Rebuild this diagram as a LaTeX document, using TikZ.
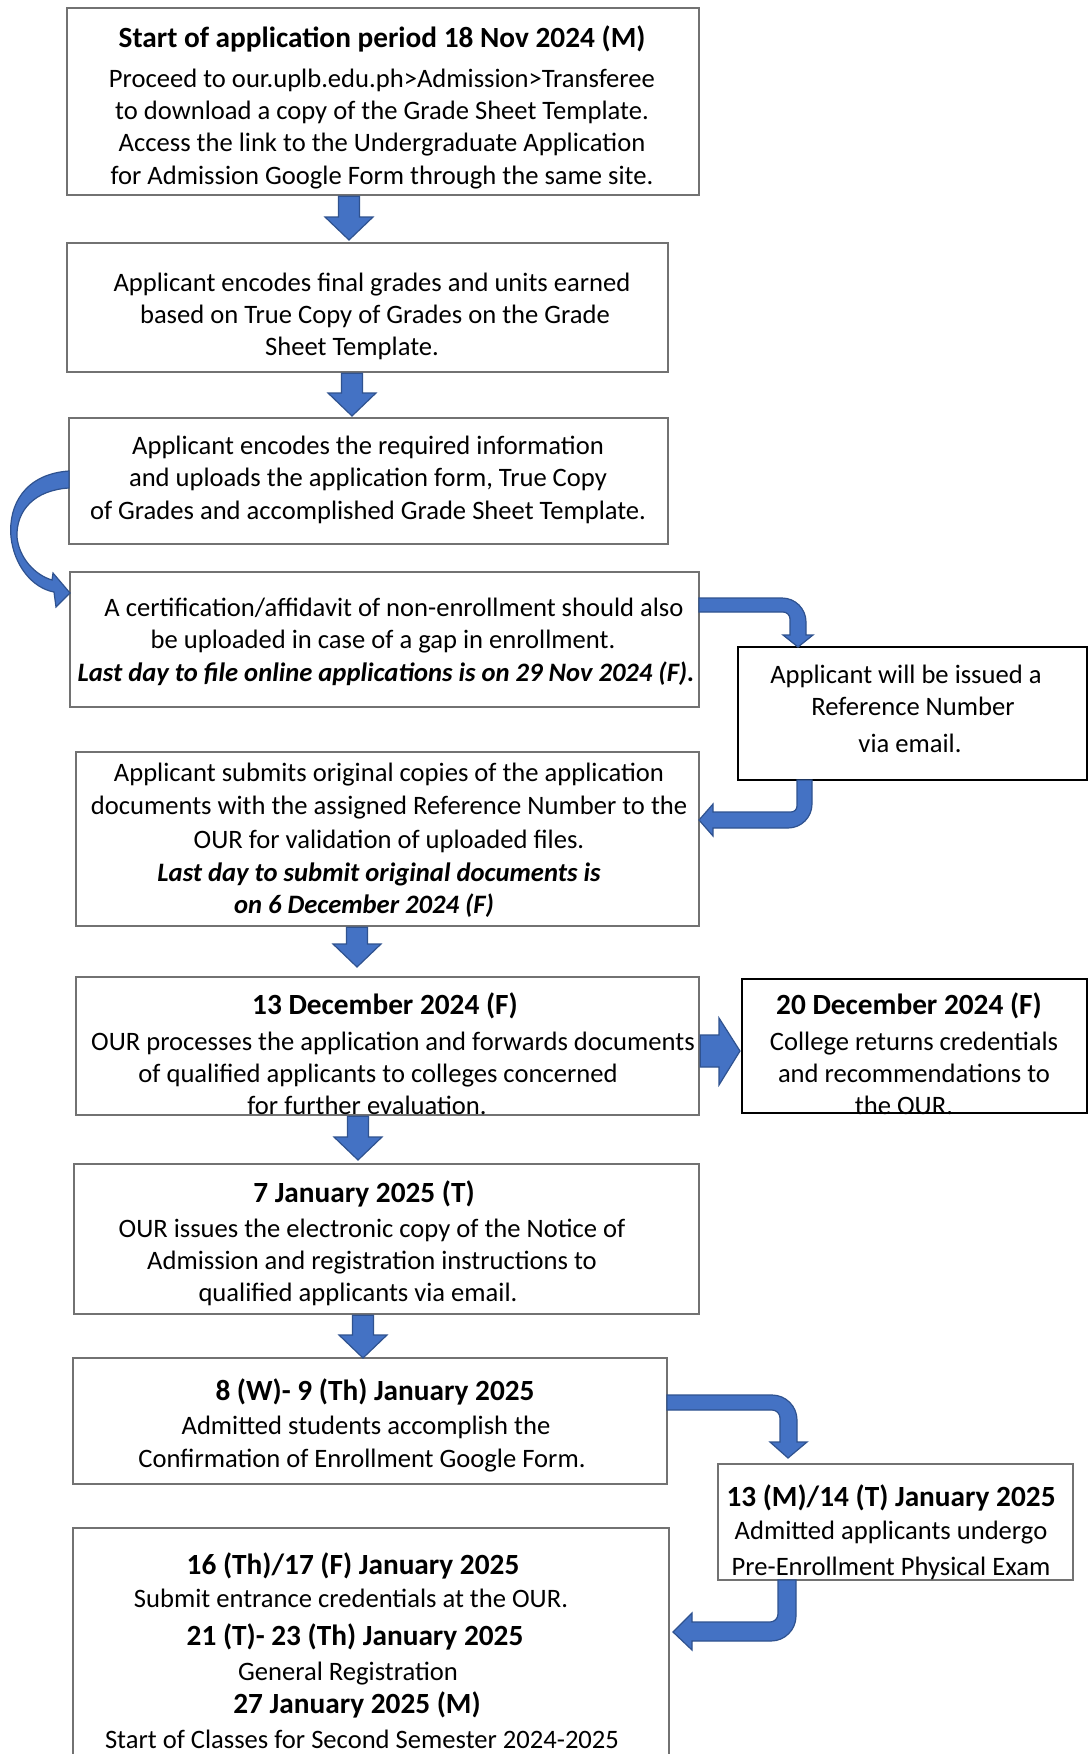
\documentclass[tikz,border=0pt]{standalone}
\usepackage{fontspec}
\setmainfont{Carlito}
\usetikzlibrary{calc}
\definecolor{boxgray}{HTML}{727272}
\definecolor{arrfill}{HTML}{4472C4}
\definecolor{arrline}{HTML}{2F528F}
\newcommand\hd{\fontsize{29.3}{35}\selectfont\bfseries}
\newcommand\bit{\bfseries\itshape}
% #1 x, #2 from node, #3 to node, #4 gap above target
\newcommand\dnarrow[4]{\path[blk] let \p1=(#2.south), \p2=(#3.north) in
  (#1pt-10.5pt,\y1-1.3pt) -- (#1pt-10.5pt,\y2+#4pt+23pt) -- (#1pt-24pt,\y2+#4pt+23pt) -- (#1pt,\y2+#4pt)
  -- (#1pt+24pt,\y2+#4pt+23pt) -- (#1pt+10.5pt,\y2+#4pt+23pt) -- (#1pt+10.5pt,\y1-1.3pt) -- cycle;}
\begin{document}
\begin{tikzpicture}[x=1pt,y=-1pt,
  box/.style={draw=boxgray,line width=2.6pt,inner sep=0pt,outer sep=0pt,anchor=north west,rectangle},
  kbox/.style={box,draw=black},
  txt/.style={align=center,inner sep=0pt,font=\fontsize{26.6}{32.4}\selectfont},
  blk/.style={fill=arrfill,draw=arrline,line width=1.2pt,line join=miter}]
\useasboundingbox (0,0) rectangle (1088,1754);
\fill[white] (0,0) rectangle (1088,1754);

% boxes
\node[box,minimum width=632pt,minimum height=187pt] (b1) at (67,8) {};
\node[box,minimum width=601pt,minimum height=129pt] (b2) at (67,243) {};
\node[box,minimum width=599pt,minimum height=126pt] (b3) at (69,418) {};
\node[box,minimum width=629pt,minimum height=135pt] (b4) at (70,572) {};
\node[kbox,minimum width=349pt,minimum height=133pt] (b5) at (738,647) {};
\node[box,minimum width=623pt,minimum height=174pt] (b6) at (76,752) {};
\node[box,minimum width=623pt,minimum height=138pt] (b7) at (76,977) {};
\node[kbox,minimum width=345pt,minimum height=134pt] (b8) at (742,979) {};
\node[box,minimum width=625pt,minimum height=150pt] (b9) at (74,1164) {};
\node[box,minimum width=594pt,minimum height=126pt] (b10) at (73,1358) {};
\node[box,minimum width=355pt,minimum height=116pt] (b11) at (718,1464) {};
\node[box,minimum width=596pt,minimum height=260pt] (b12) at (73,1528) {};

% straight down arrows
\dnarrow{349}{b1}{b2}{3}
\dnarrow{352}{b2}{b3}{2}
\dnarrow{357}{b6}{b7}{10}
\dnarrow{358}{b7}{b9}{4}
\dnarrow{363}{b9}{b10}{0}

% right arrow b7 -> b8
\path[blk] let \p1=(b7.east), \p2=(b8.west) in
  (\x1+1.3pt,-1035pt) -- (719pt,-1035pt) -- (719pt,-1018pt) -- (\x2-2pt,-1051pt)
  -- (719pt,-1085pt) -- (719pt,-1067pt) -- (\x1+1.3pt,-1067pt) -- cycle;

% curved arrow b3 -> b4
\path[blk] (b3.west |- 0,471) .. controls (25,474) and (8,505) .. (11,537)
  .. controls (14,565) and (32,588) .. (54,592) -- (56,607) -- (b4.west |- 0,593)
  -- (53,573) -- (52,580) .. controls (35,575) and (19,558) .. (17,537)
  .. controls (16,510) and (35,490) .. (b3.west |- 0,488) -- cycle;

% bent arrow b4 -> b5
\path[blk] (b4.east |- 0,598) -- (782,598) .. controls (795.3,598) and (806,608.7) .. (806,622)
  -- (806,635) -- (813,635) -- (b5.north -| 798,0) -- (783,635) -- (790,635) -- (790,619)
  .. controls (790,615.1) and (786.9,612) .. (783,612) -- (b4.east |- 0,612) -- cycle;

% bent arrow b5 -> b6
\path[blk] (b5.south -| 797,0) -- (b5.south -| 812,0) -- (812,804)
  .. controls (812,817.3) and (801.3,828) .. (788,828) -- (713,828) -- (713,836)
  -- (b6.east |- 0,820) -- (713,804) -- (713,812) -- (791,812)
  .. controls (794.3,812) and (797,809.3) .. (797,806) -- cycle;

% bent arrow b10 -> b11
\path[blk] (b10.east |- 0,1395) -- (772,1395) .. controls (785.8,1395) and (797,1406.2) .. (797,1420)
  -- (797,1442) -- (807,1442) -- ($(b11.north -| 788,0)+(0,-6)$) -- (770,1442) -- (780,1442)
  -- (780,1418) .. controls (780,1413.6) and (776.4,1410) .. (772,1410) -- (b10.east |- 0,1410) -- cycle;

% bent arrow b11 -> b12
\path[blk] (b11.south -| 778,0) -- (b11.south -| 796,0) -- (796,1616)
  .. controls (796,1629.8) and (784.8,1641) .. (771,1641) -- (692,1641) -- (692,1650)
  -- ($(b12.east |- 0,1632)+(4,0)$) -- (692,1613) -- (692,1622) -- (770,1622)
  .. controls (774.4,1622) and (778,1618.4) .. (778,1614) -- cycle;

% texts
\node[txt] (t1) at (382,107.5) {{\hd Start of application period 18 Nov 2024 (M)}\\[7pt]
  Proceed to our.uplb.edu.ph>Admission>Transferee\\
  to download a copy of the Grade Sheet Template.\\
  Access the link to the Undergraduate Application\\
  for Admission Google Form through the same site.};
\node[txt] (t2) at (372,316.5) {Applicant encodes final grades and units earned\\
  based on True Copy of Grades on the Grade\kern-6pt\\
  Sheet Template.\kern40pt};
\node[txt] (t3) at (368,479.5) {Applicant encodes the required information\\
  and uploads the application form, True Copy\\
  of Grades and accomplished Grade Sheet Template.};
\node[txt] (t4) at (386,641.5) {\kern16pt A certification/affidavit of non-enrollment should also\\
  be uploaded in case of a gap in enrollment.\kern6pt\\
  {\bit Last day to file online applications is on 29 Nov 2024 (F).}};
\node[txt] (t5) at (910,708.5) {Applicant will be issued a\kern8pt\\
  \kern6pt Reference Number\\[4pt]
  via email.};
\node[txt] (t6) at (389,840.5) {Applicant submits original copies of the application\\
  documents with the assigned Reference Number to the\\[2pt]
  OUR for validation of uploaded files.\\
  {\bit Last day to submit original documents is}\kern20pt\\
  {\bit on 6 December 2024 (F)}\kern50pt};
\node[txt] (t7) at (393,1054) {{\hd 13 December 2024 (F)}\kern16pt\\[3pt]
  OUR processes the application and forwards documents\\
  of qualified applicants to colleges concerned\kern30pt\\
  for further evaluation.\kern52pt};
\node[txt] (t8) at (914,1054) {{\hd 20 December 2024 (F)}\kern10pt\\[3pt]
  College returns credentials\\
  and recommendations to\\
  the OUR.\kern20pt};
\node[txt] (t9) at (372,1243.5) {{\hd 7 January 2025 (T)}\kern16pt\\[2pt]
  OUR issues the electronic copy of the Notice of\\
  Admission and registration instructions to\\
  qualified applicants via email.\kern28pt};
\node[txt] (t10) at (362,1425) {\kern26pt{\hd 8 (W)- 9 (Th) January 2025}\\[2pt]
  \kern8pt Admitted students accomplish the\\
  Confirmation of Enrollment Google Form.};
\node[txt] (t11) at (891,1532) {{\hd 13 (M)/14 (T) January 2025}\\[1pt]
  Admitted applicants undergo\\[3pt]
  Pre-Enrollment Physical Exam};
\node[txt] (t12) at (362,1650.5) {{\hd 16 (Th)/17 (F) January 2025}\kern18pt\\[1pt]
  Submit entrance credentials at the OUR.\kern22pt\\[5pt]
  {\hd 21 (T)- 23 (Th) January 2025}\kern14pt\\[3pt]
  General Registration\kern28pt\\[1pt]
  {\hd 27 January 2025 (M)}\kern10pt\\[2pt]
  Start of Classes for Second Semester 2024-2025};
\end{tikzpicture}
\end{document}
